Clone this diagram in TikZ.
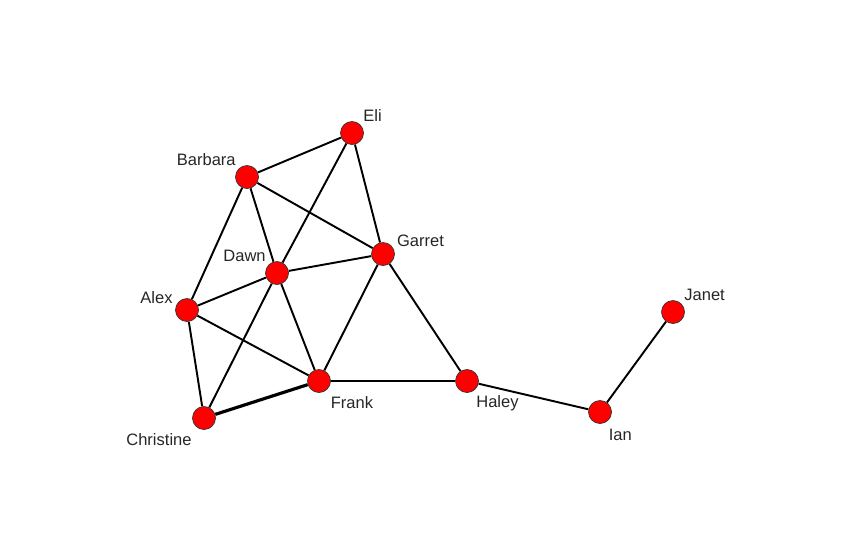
\documentclass[tikz,border=0pt]{standalone}
\usepackage{fontspec}
\setmainfont{Liberation Sans}
\usetikzlibrary{positioning, backgrounds}

\begin{document}
\begin{tikzpicture}[
x=0.02cm, y=-0.02cm,
person/.style={circle, draw=black!80, fill=red, thin, minimum size=0.46cm, inner sep=0pt},
lbl/.style={font=\fontsize{9.4}{11}\selectfont, text=black!85, inner sep=1.5pt},
tie/.style={draw=black, line width=1.1pt},
every label/.style={lbl}
]
\useasboundingbox (0,0) rectangle (861,552);
%Nodes
\node[person, label={45:Eli}]          (Eli)       at (352,133) {};
\node[person, label={above left:Barbara}] (Barbara) at (247,177) {};
\node[person, label={20:Garret}]       (Garret)    at (383,254) {};
\node[person, label={above left:Dawn}] (Dawn)      at (277,273) {};
\node[person, label={165:Alex}]        (Alex)      at (187,310) {};
\node[person, label={above right:Janet}] (Janet)   at (673,312) {};
\node[person, label={[label distance=2pt]-55:Frank}] (Frank) at (319,381) {};
\node[person, label={[label distance=1pt]-62:Haley}] (Haley) at (467,381) {};
\node[person, label={[label distance=2pt]-128:Christine}] (Christine) at (204,418) {};
\node[person, label={[label distance=2pt]-68:Ian}] (Ian) at (600,412) {};

%Lines
\begin{scope}[on background layer]
\draw[tie] (Barbara) -- (Eli);
\draw[tie] (Barbara) -- (Garret);
\draw[tie] (Barbara) -- (Dawn);
\draw[tie] (Barbara) -- (Alex);
\draw[tie] (Eli) -- (Dawn);
\draw[tie] (Eli) -- (Garret);
\draw[tie] (Dawn) -- (Garret);
\draw[tie] (Dawn) -- (Alex);
\draw[tie] (Dawn) -- (Christine);
\draw[tie] (Dawn) -- (Frank);
\draw[tie] (Garret) -- (Frank);
\draw[tie] (Garret) -- (Haley);
\draw[tie] (Alex) -- (Frank);
\draw[tie] (Alex) -- (Christine);
\draw[tie, line width=1.8pt] (Christine) -- (Frank);
\draw[tie] (Frank) -- (Haley);
\draw[tie] (Haley) -- (Ian);
\draw[tie] (Ian) -- (Janet);
\end{scope}
\end{tikzpicture}
\end{document}
